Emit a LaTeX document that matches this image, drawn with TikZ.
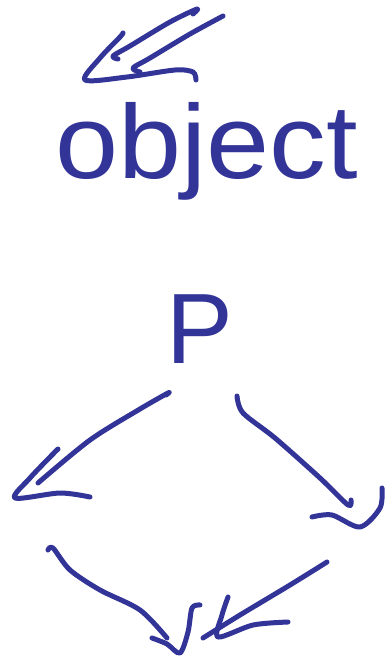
\documentclass[tikz,border=0pt]{standalone}
\usepackage{fontspec}
\setmainfont{Liberation Sans}
\definecolor{ink}{RGB}{50,52,152}
\begin{document}
\begin{tikzpicture}[x=1pt,y=-1pt,
  pen/.style={draw=ink,line width=5pt,line cap=round,line join=round},
  hand/.style={text=ink,inner sep=0pt}]
\useasboundingbox (0,0) rectangle (387,658);
% top double arrow
\draw[pen] plot[smooth] coordinates {(193,14) (197,9) (170,22) (130,46) (113,56) (118,59)};
\draw[pen] plot[smooth] coordinates {(223,16) (190,34) (150,58) (133,68) (140,72)};
\draw[pen] plot[smooth] coordinates {(123,33) (120,37) (100,58) (85,80) (127,77) (175,70) (193,72) (196,80)};
% text
\node[hand,anchor=base west,xscale=1.08] (obj) at (55,178) {\fontsize{105}{105}\selectfont object};
\node[hand,anchor=base] (p) at (200,363) {\fontsize{100}{100}\selectfont P};
% left arrow from P
\draw[pen] plot[smooth] coordinates {(166,395) (168,393) (140,409) (90,440) (38,483)};
\draw[pen] plot[smooth] coordinates {(58,449) (52,455) (30,478) (15,498) (60,493) (90,497)};
% right arrow from P
\draw[pen] plot[smooth] coordinates {(237,396) (243,413) (275,438) (320,478) (348,505) (351,500)};
\draw[pen] plot[smooth] coordinates {(382,488) (380,508) (360,527) (332,515) (312,517)};
% bottom left arrow
\draw[pen] plot[smooth] coordinates {(48,550) (53,548) (70,570) (100,590) (140,610) (167,638)};
\draw[pen] plot[smooth] coordinates {(152,638) (167,644) (180,653) (188,632) (192,608) (200,605)};
% bottom right arrow
\draw[pen] plot[smooth] coordinates {(327,562) (290,585) (240,615) (203,638)};
\draw[pen] plot[smooth] coordinates {(228,597) (222,615) (218,637) (253,625) (288,622)};
\end{tikzpicture}
\end{document}
